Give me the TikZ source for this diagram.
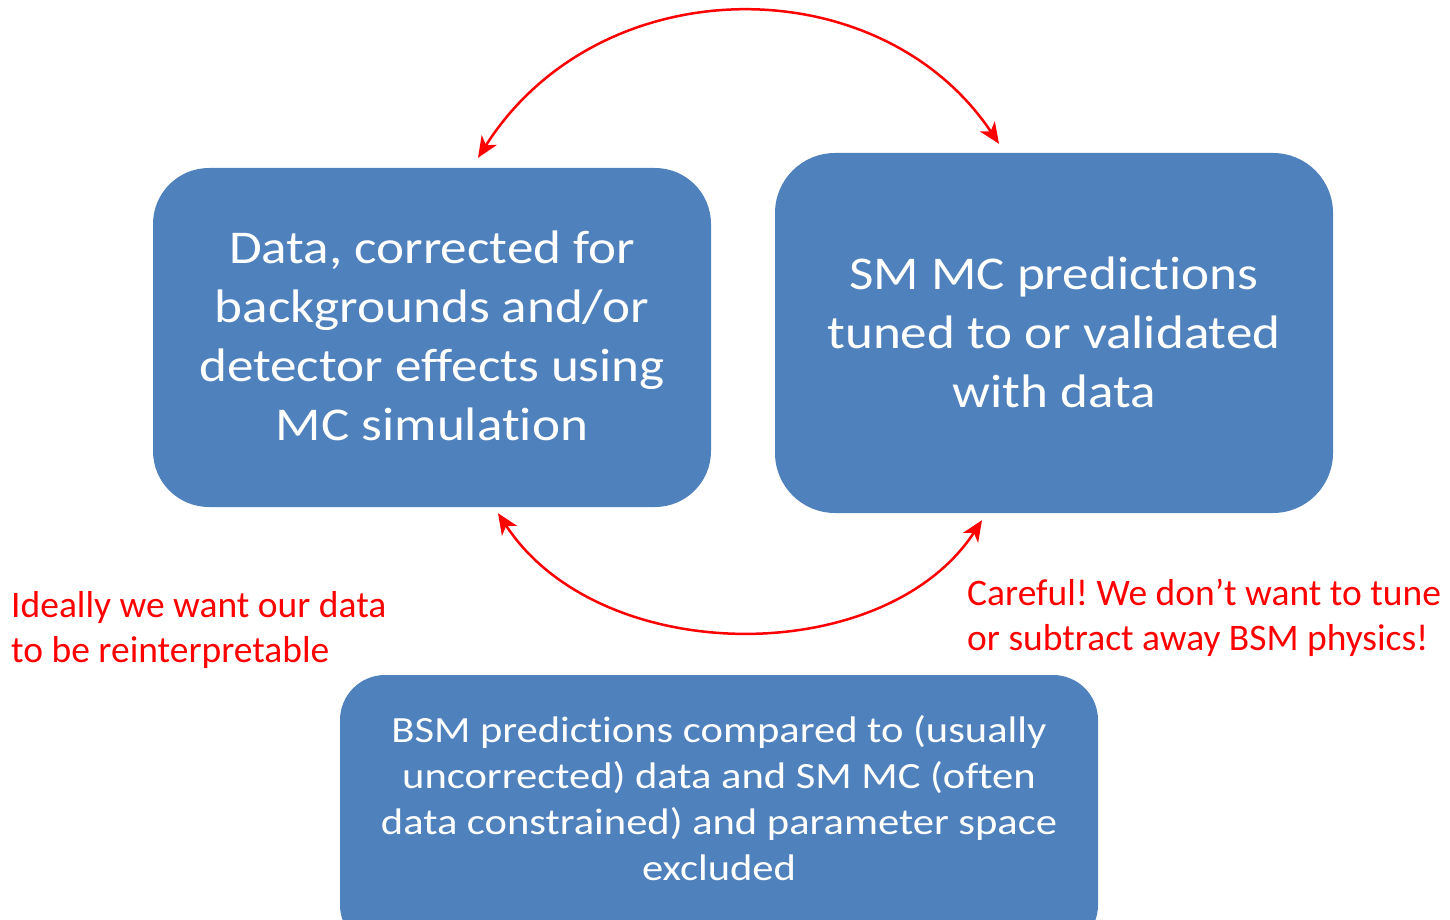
\documentclass[tikz,border=0pt]{standalone}
\usepackage{fontspec}
\setmainfont{Carlito}[Ligatures=NoCommon]
\newfontfamily\wideface{Carlito}[FakeStretch=1.13, Ligatures=NoCommon]
\newfontfamily\widerface{Carlito}[FakeStretch=1.15, Ligatures=NoCommon]
\usetikzlibrary{arrows.meta,calc}
\definecolor{boxblue}{HTML}{4F81BD}
\definecolor{alertred}{HTML}{FF0000}
\begin{document}
\frenchspacing
\begin{tikzpicture}[x=1pt,y=-1pt,
  box/.style={fill=boxblue, draw=none, inner sep=0pt},
  bigtext/.style={text=white, align=center, inner sep=0pt, font=\wideface\fontsize{47}{59}\selectfont},
  smalltext/.style={text=white, align=center, inner sep=0pt, font=\widerface\fontsize{37}{46}\selectfont},
  note/.style={text=alertred, align=left, inner sep=0pt, font=\fontsize{37.5}{44.5}\selectfont},
  loop/.style={draw=alertred, line width=2.5pt, {Stealth[length=21pt,width=18pt,inset=6pt]}-{Stealth[length=21pt,width=18pt,inset=6pt]}}
]
\useasboundingbox (0,0) rectangle (1450,920);
\clip (0,0) rectangle (1450,920);

% the three stages
\node[box, minimum width=558pt, minimum height=339pt, rounded corners=56pt] (L) at (432,337.5) {};
\node[box, minimum width=558pt, minimum height=360pt, rounded corners=60pt] (R) at (1054,333) {};
\node[box, minimum width=758pt, minimum height=275pt, rounded corners=45pt] (B) at (719,812.5) {};

\node[bigtext] (Ltxt) at (432,336) {Data, corrected for\\backgrounds and/or\\detector effects using\\MC simulation};
\node[bigtext] (Rtxt) at (1054,332) {SM MC predictions\\tuned to or validated\\with data};
\node[smalltext] (Btxt) at (719,798) {BSM predictions compared to (usually\\uncorrected) data and SM MC (often\\data constrained) and parameter space\\excluded};

% arc end points just off the boxes
\coordinate (a1) at ($(L.north)+(46,-10)$);
\coordinate (a2) at ($(R.north)+(-55,-9)$);
\coordinate (b1) at ($(L.south)+(66,6)$);
\coordinate (b2) at ($(R.south)+(-72,7)$);

\draw[loop] (a1) .. controls (600,-34) and (880,-34) .. (a2);
\draw[loop] (b1) .. controls (600,669) and (885,669) .. (b2);

% remarks
\node[note, anchor=west] (n1) at (11,630) {Ideally we want our data\\to be reinterpretable};
\node[note, anchor=west] (n2) at (967,618) {Careful! We don’t want to tune\\or subtract away BSM physics!};
\end{tikzpicture}
\end{document}
